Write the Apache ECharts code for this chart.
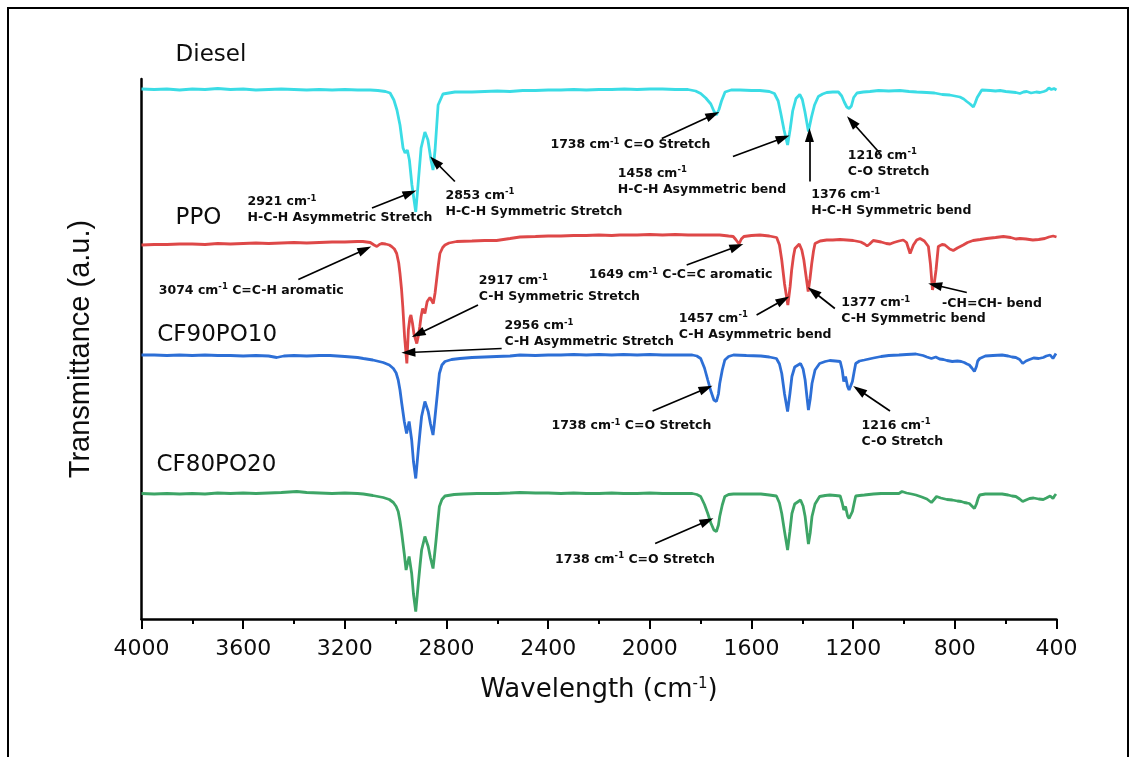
<!DOCTYPE html>
<html>
<head>
<meta charset="utf-8">
<script src="https://cdn.jsdelivr.net/npm/echarts@6/dist/echarts.min.js"></script>
<style>
  html, body { margin: 0; padding: 0; background: #fff; }
  #chart { width: 1135px; height: 757px; }
</style>
</head>
<body>
<div id="chart"></div>
<script>
// FTIR spectra, stacked with vertical offsets: [wavenumber (cm-1), transmittance (a.u.)]
const sampleNames = ['Diesel', 'PPO', 'CF90PO10', 'CF80PO20'];

const diesel = [
  [4000,106.0],[3950,105.9],[3900,106.0],[3850,105.8],[3800,106.0],[3750,105.9],[3700,106.1],[3650,105.9],
  [3600,106.0],[3550,105.8],[3500,105.9],[3450,106.0],[3400,105.9],[3350,105.8],[3300,105.9],[3250,105.8],
  [3200,105.9],[3150,105.8],[3100,105.8],[3070,105.7],[3040,105.5],[3022,105.2],[3007,103.8],[2995,101.8],
  [2983,98.8],[2971,94.2],[2963,93.2],[2954,93.8],[2946,91.8],[2936,86.8],[2921,81.4],[2912,86.8],
  [2900,94.2],[2885,97.4],[2873,95.8],[2861,91.8],[2853,89.8],[2845,93.8],[2833,102.8],[2814,105.0],
  [2767,105.4],[2700,105.4],[2650,105.5],[2600,105.6],[2550,105.5],[2500,105.7],[2450,105.7],[2400,105.8],
  [2350,105.8],[2300,105.9],[2250,105.8],[2200,105.9],[2150,105.9],[2100,106.0],[2050,105.9],[2000,106.0],
  [1950,106.0],[1900,105.9],[1850,105.9],[1820,105.6],[1800,105.1],[1780,104.2],[1760,103.0],[1748,101.6],
  [1738,100.8],[1728,101.9],[1718,103.6],[1704,105.4],[1680,105.8],[1645,105.8],[1600,105.7],[1567,105.7],
  [1530,105.5],[1510,105.1],[1495,103.6],[1485,101.2],[1472,97.8],[1458,94.8],[1448,97.9],[1438,101.6],
  [1425,104.1],[1410,104.9],[1400,103.9],[1390,101.5],[1376,97.5],[1364,100.4],[1352,102.8],[1337,104.5],
  [1320,105.0],[1304,105.3],[1280,105.4],[1258,105.4],[1245,104.6],[1235,103.4],[1225,102.4],[1216,102.1],
  [1207,102.6],[1198,104.3],[1185,105.2],[1160,105.4],[1134,105.5],[1100,105.7],[1060,105.6],[1016,105.7],
  [980,105.5],[950,105.4],[911,105.3],[880,105.2],[850,104.9],[820,104.8],[800,104.6],[780,104.4],
  [765,104.0],[753,103.5],[740,103.0],[727,102.4],[720,103.2],[712,104.3],[700,105.3],[694,105.8],
  [660,105.7],[640,105.6],[622,105.7],[600,105.5],[580,105.4],[560,105.3],[544,105.1],[530,105.4],
  [517,105.5],[500,105.2],[480,105.4],[465,105.3],[450,105.5],[440,105.7],[430,106.2],[420,105.9],
  [410,106.1],[400,105.8]
];

const ppo = [
  [4000,74.8],[3950,74.9],[3900,74.9],[3850,75.0],[3800,75.0],[3750,74.9],[3700,75.1],[3650,75.0],
  [3600,75.1],[3550,75.2],[3500,75.1],[3450,75.2],[3400,75.3],[3350,75.2],[3300,75.3],[3250,75.4],
  [3200,75.4],[3150,75.5],[3129,75.5],[3100,75.3],[3085,74.8],[3074,74.5],[3064,74.9],[3055,75.1],
  [3040,75.0],[3025,74.8],[3016,74.5],[3005,74.0],[2996,73.1],[2988,71.2],[2983,69.1],[2977,66.0],
  [2972,62.5],[2965,56.5],[2956,51.1],[2950,57.8],[2944,60.2],[2940,60.8],[2934,59.2],[2928,57.0],
  [2917,55.1],[2910,56.8],[2905,58.5],[2900,60.5],[2894,62.1],[2885,61.1],[2876,63.5],[2865,64.3],
  [2852,63.1],[2845,65.2],[2839,67.8],[2832,70.8],[2826,73.1],[2815,74.3],[2806,74.8],[2790,75.2],
  [2760,75.5],[2700,75.6],[2650,75.7],[2603,75.7],[2550,76.1],[2511,76.4],[2450,76.5],[2400,76.6],
  [2350,76.6],[2300,76.7],[2250,76.7],[2200,76.8],[2150,76.7],[2118,76.8],[2050,76.8],[2000,76.9],
  [1950,76.8],[1900,76.9],[1850,76.8],[1800,76.8],[1750,76.8],[1725,76.8],[1690,76.6],[1672,76.5],
  [1662,75.9],[1649,75.0],[1640,76.0],[1630,76.5],[1600,76.7],[1567,76.8],[1530,76.6],[1501,76.3],
  [1490,74.8],[1481,71.8],[1470,67.0],[1457,62.8],[1448,66.5],[1442,69.8],[1435,72.5],[1429,74.1],
  [1412,75.0],[1402,73.8],[1394,71.8],[1386,68.8],[1377,65.5],[1370,68.0],[1363,71.1],[1356,73.6],
  [1350,75.1],[1330,75.6],[1304,75.8],[1280,75.8],[1252,75.9],[1225,75.8],[1200,75.7],[1170,75.4],
  [1155,75.0],[1145,74.6],[1135,75.0],[1121,75.7],[1090,75.4],[1070,75.1],[1055,75.0],[1040,75.3],
  [1020,75.6],[1003,75.8],[990,75.3],[976,73.1],[963,74.8],[950,75.8],[937,76.1],[920,75.6],
  [904,74.5],[896,71.0],[888,65.8],[880,67.5],[874,69.8],[865,74.5],[850,74.9],[839,74.8],
  [820,74.0],[806,73.7],[790,74.2],[767,74.8],[750,75.3],[728,75.7],[700,75.9],[675,76.1],
  [640,76.3],[609,76.5],[580,76.3],[560,76.0],[544,76.1],[520,76.0],[493,75.8],[470,75.9],
  [446,76.1],[430,76.4],[413,76.6],[400,76.4]
];

const cf90po10 = [
  [4000,52.8],[3950,52.8],[3900,52.7],[3850,52.8],[3800,52.7],[3750,52.8],[3700,52.7],[3650,52.7],
  [3600,52.6],[3550,52.7],[3500,52.6],[3468,52.3],[3440,52.6],[3400,52.7],[3350,52.6],[3300,52.7],
  [3258,52.7],[3200,52.5],[3150,52.3],[3127,52.1],[3090,51.8],[3049,51.3],[3025,50.8],[3009,50.1],
  [2998,49.2],[2990,47.8],[2983,45.8],[2976,43.1],[2966,39.5],[2957,37.1],[2947,39.5],[2937,35.8],
  [2930,31.5],[2921,28.1],[2911,33.8],[2904,37.5],[2898,40.5],[2885,43.5],[2872,41.5],[2863,39.0],
  [2853,36.8],[2847,39.5],[2841,42.5],[2834,46.0],[2828,49.1],[2818,50.8],[2806,51.5],[2780,51.9],
  [2747,52.1],[2700,52.3],[2650,52.4],[2603,52.5],[2550,52.6],[2511,52.8],[2450,52.7],[2400,52.8],
  [2350,52.8],[2300,52.9],[2250,52.8],[2200,52.9],[2150,52.8],[2104,52.9],[2050,52.8],[2000,52.9],
  [1950,52.8],[1900,52.8],[1850,52.8],[1833,52.8],[1815,52.6],[1800,52.1],[1785,50.2],[1772,47.8],
  [1760,45.6],[1748,43.8],[1738,43.5],[1730,45.0],[1725,47.1],[1715,49.8],[1705,51.8],[1690,52.5],
  [1671,52.8],[1620,52.7],[1563,52.6],[1530,52.4],[1502,52.1],[1490,51.0],[1481,49.1],[1470,45.0],
  [1458,41.5],[1449,45.0],[1441,48.5],[1430,50.4],[1407,51.1],[1397,50.0],[1389,47.8],[1382,44.5],
  [1376,41.8],[1369,44.0],[1362,47.1],[1350,49.8],[1332,51.1],[1310,51.5],[1292,51.7],[1270,51.6],
  [1251,51.5],[1243,49.8],[1237,47.5],[1230,48.5],[1222,46.5],[1216,45.8],[1210,46.2],[1203,47.5],
  [1196,49.5],[1190,51.1],[1175,51.6],[1156,51.8],[1120,52.2],[1090,52.5],[1060,52.7],[1020,52.8],
  [990,52.9],[953,53.0],[925,52.7],[910,52.4],[892,52.1],[875,52.4],[860,52.0],[845,51.9],
  [831,51.7],[810,51.5],[790,51.6],[775,51.5],[763,51.3],[752,51.0],[743,50.8],[733,50.2],
  [723,49.5],[715,50.5],[710,51.6],[702,52.1],[680,52.6],[650,52.7],[614,52.8],[590,52.6],
  [575,52.4],[560,52.3],[545,51.9],[533,51.1],[520,51.6],[506,51.9],[490,52.2],[470,52.1],
  [452,52.3],[440,52.6],[425,52.8],[418,52.4],[414,52.1],[408,52.6],[402,53.1]
];

const cf80po20 = [
  [4000,25.1],[3950,25.0],[3900,25.1],[3850,25.0],[3800,25.1],[3750,25.0],[3700,25.2],[3650,25.1],
  [3600,25.2],[3550,25.1],[3500,25.2],[3450,25.3],[3389,25.5],[3350,25.3],[3300,25.2],[3250,25.1],
  [3200,25.2],[3150,25.1],[3127,25.0],[3090,24.7],[3049,24.3],[3025,23.9],[3009,23.3],[2998,22.5],
  [2990,21.5],[2983,19.6],[2976,17.1],[2966,13.0],[2959,9.8],[2947,12.5],[2937,9.1],[2930,5.0],
  [2921,1.5],[2911,7.1],[2904,10.8],[2898,13.8],[2885,16.5],[2872,14.5],[2863,12.2],[2853,10.1],
  [2847,12.8],[2841,15.8],[2834,19.5],[2828,22.5],[2818,23.9],[2806,24.6],[2770,24.9],[2734,25.0],
  [2680,25.1],[2600,25.1],[2550,25.2],[2511,25.3],[2450,25.2],[2400,25.2],[2350,25.1],[2300,25.2],
  [2250,25.1],[2200,25.1],[2150,25.2],[2104,25.1],[2050,25.1],[2000,25.2],[1950,25.1],[1900,25.1],
  [1850,25.1],[1833,25.1],[1815,24.9],[1800,24.5],[1785,22.9],[1772,21.1],[1760,19.2],[1748,17.8],
  [1738,17.5],[1730,18.8],[1725,20.5],[1715,22.8],[1705,24.5],[1690,24.9],[1671,25.0],[1620,25.0],
  [1563,25.0],[1530,24.8],[1502,24.6],[1490,23.2],[1481,21.1],[1470,17.5],[1458,13.8],[1449,17.5],
  [1441,21.1],[1430,23.0],[1407,23.8],[1397,22.6],[1389,20.5],[1382,17.5],[1376,15.0],[1369,17.2],
  [1362,20.5],[1350,23.0],[1332,24.5],[1310,24.7],[1292,24.8],[1270,24.7],[1251,24.6],[1243,23.2],
  [1237,21.8],[1230,22.5],[1222,20.6],[1216,20.1],[1210,20.5],[1203,21.5],[1196,23.2],[1190,24.6],
  [1175,24.7],[1156,24.8],[1120,25.0],[1090,25.1],[1060,25.1],[1020,25.1],[1008,25.5],[990,25.2],
  [970,25.0],[953,24.8],[930,24.4],[910,24.0],[892,23.3],[880,24.0],[872,24.5],[855,24.2],
  [831,23.9],[810,23.8],[790,23.6],[775,23.5],[763,23.3],[752,23.2],[743,23.1],[733,22.6],
  [723,22.1],[715,23.0],[708,24.2],[702,24.8],[680,25.0],[650,25.0],[614,25.0],[590,24.8],
  [575,24.6],[560,24.5],[545,24.0],[533,23.5],[520,23.8],[506,24.1],[490,24.2],[470,24.0],
  [452,23.9],[440,24.2],[425,24.6],[418,24.3],[414,24.1],[408,24.6],[402,25.0]
];

const spectra = [diesel, ppo, cf90po10, cf80po20];
const xTicks = { min: 400, max: 4000, step: 400 };

// Band assignments (peak wavenumber + assignment)
const bands = [
  { wn: 2921, note: 'H-C-H Asymmetric Stretch' },
  { wn: 2853, note: 'H-C-H Symmetric Stretch' },
  { wn: 1738, note: 'C=O Stretch' },
  { wn: 1458, note: 'H-C-H Asymmetric bend' },
  { wn: 1376, note: 'H-C-H Symmetric bend' },
  { wn: 1216, note: 'C-O Stretch' },
  { wn: 3074, note: 'C=C-H aromatic' },
  { wn: 2917, note: 'C-H Symmetric Stretch' },
  { wn: 2956, note: 'C-H Asymmetric Stretch' },
  { wn: 1649, note: 'C-C=C aromatic' },
  { wn: 1457, note: 'C-H Asymmetric bend' },
  { wn: 1377, note: 'C-H Symmetric bend' },
  { wn: null, note: '-CH=CH- bend' },
  { wn: 1738, note: 'C=O Stretch' },
  { wn: 1216, note: 'C-O Stretch' },
  { wn: 1738, note: 'C=O Stretch' }
];

// Callout layout in axis units: text anchor (left / middle), arrow tail and head
const calloutLayout = [
  { twoLine: true,  at: [3585, 81.8], tail: [3093, 82.2], head: [2944, 85.2] },
  { twoLine: true,  at: [2806, 83.1], tail: [2767, 87.5], head: [2845, 91.5] },
  { twoLine: false, at: [2393, 94.8], tail: [1953, 96.1], head: [1752, 100.8] },
  { twoLine: true,  at: [2128, 87.5], tail: [1673, 92.5], head: [1476, 96.2] },
  { twoLine: true,  at: [1367, 83.2], tail: [1372, 87.5], head: [1372, 96.8] },
  { twoLine: true,  at: [1223, 91.1], tail: [1094, 93.1], head: [1206, 99.5] },
  { twoLine: false, at: [3934, 65.7], tail: [3383, 67.9], head: [3121, 73.9] },
  { twoLine: true,  at: [2675, 66.0], tail: [2676, 62.8], head: [2912, 57.0] },
  { twoLine: true,  at: [2574, 57.0], tail: [2583, 54.1], head: [2950, 53.3] },
  { twoLine: false, at: [2242, 68.8], tail: [1855, 70.8], head: [1658, 74.5] },
  { twoLine: true,  at: [1888, 58.5], tail: [1580, 60.8], head: [1475, 63.8] },
  { twoLine: true,  at: [1249, 61.6], tail: [1272, 62.1], head: [1357, 65.5] },
  { twoLine: false, at: [852, 63.1],  tail: [753, 65.3],  head: [878, 66.8] },
  { twoLine: false, at: [2389, 38.6], tail: [1989, 41.6], head: [1779, 46.1] },
  { twoLine: true,  at: [1169, 37.1], tail: [1055, 41.6], head: [1177, 45.8] },
  { twoLine: false, at: [2375, 11.9], tail: [1979, 15.1], head: [1775, 19.6] }
];

// Where each sample name sits (axis units)
const nameAnchors = [[3868, 112.8], [3868, 80.1], [3940, 56.8], [3943, 30.8]];

const colors = ['#3BDCE5', '#DE4848', '#2D6FD6', '#3DA566'];
const FONT = 'DejaVu Sans';
const INK = '#0d0d0d';

function calloutText(band, layout) {
  if (band.wn == null) return '{b|' + band.note + '}';
  const head = '{b|' + band.wn + ' cm}{s|-1}';
  return layout.twoLine ? head + '\n{b|' + band.note + '}' : head + '{b| ' + band.note + '}';
}

const lineSeries = spectra.map((data, i) => ({
  type: 'line',
  name: sampleNames[i],
  data: data,
  symbol: 'none',
  smooth: false,
  clip: false,
  silent: true,
  z: 2,
  lineStyle: { color: colors[i], width: 2.8 },
  itemStyle: { color: colors[i] }
}));

const hiddenDot = { color: 'rgba(0,0,0,0)', opacity: 1 };

const calloutSeries = {
  type: 'scatter',
  name: 'callouts',
  silent: true,
  clip: false,
  z: 5,
  symbolSize: 1,
  itemStyle: hiddenDot,
  label: {
    show: true,
    position: 'right',
    distance: 0,
    align: 'left',
    opacity: 1,
    rich: {
      b: { fontFamily: FONT, fontWeight: 'bold', fontSize: 12.5, lineHeight: 16, color: INK },
      s: { fontFamily: FONT, fontWeight: 'bold', fontSize: 8.5, lineHeight: 12, verticalAlign: 'top', color: INK }
    }
  },
  data: bands.map((band, i) => ({
    value: calloutLayout[i].at,
    label: { formatter: calloutText(band, calloutLayout[i]) }
  })),
  markLine: {
    silent: true,
    animation: false,
    symbol: ['none', 'triangle'],
    symbolSize: [9, 14],
    label: { show: false },
    lineStyle: { color: '#000', width: 1.7, type: 'solid', opacity: 1 },
    itemStyle: { color: '#000' },
    emphasis: { disabled: true },
    data: calloutLayout.map(c => [{ coord: c.tail }, { coord: c.head }])
  }
};

const nameSeries = {
  type: 'scatter',
  name: 'sample names',
  silent: true,
  clip: false,
  z: 5,
  symbolSize: 1,
  itemStyle: hiddenDot,
  label: {
    show: true,
    position: 'right',
    distance: 0,
    opacity: 1,
    fontFamily: FONT,
    fontSize: 23,
    color: INK,
    formatter: p => sampleNames[p.dataIndex]
  },
  data: nameAnchors
};

const chart = echarts.init(document.getElementById('chart'), null, { renderer: 'canvas' });
chart.setOption({
  animation: false,
  backgroundColor: '#ffffff',
  grid: { left: 141.5, right: 78.5, top: 79, bottom: 138, containLabel: false },
  xAxis: {
    type: 'value',
    inverse: true,
    min: xTicks.min,
    max: xTicks.max,
    interval: xTicks.step,
    axisLine: { show: true, onZero: false, lineStyle: { color: '#000', width: 2.5 } },
    axisTick: { show: true, length: 10, lineStyle: { color: '#000', width: 2 } },
    minorTick: { show: true, splitNumber: 2, length: 5, lineStyle: { color: '#000', width: 2 } },
    axisLabel: { color: INK, fontFamily: FONT, fontSize: 22, margin: 19, formatter: v => String(v) },
    splitLine: { show: false },
    minorSplitLine: { show: false },
    name: 'Wavelength (cm{s|-1})',
    nameLocation: 'middle',
    nameGap: 58,
    nameTextStyle: {
      color: INK, fontFamily: FONT, fontSize: 26,
      rich: { s: { color: INK, fontFamily: FONT, fontSize: 15, lineHeight: 16, verticalAlign: 'top' } }
    }
  },
  yAxis: {
    type: 'value',
    min: 0,
    max: 108,
    axisLine: { show: true, onZero: false, lineStyle: { color: '#000', width: 2.5 } },
    axisTick: { show: false },
    axisLabel: { show: false },
    splitLine: { show: false },
    name: 'Transmittance (a.u.)',
    nameLocation: 'middle',
    nameGap: 46,
    nameTextStyle: { color: INK, fontFamily: 'Liberation Sans', fontSize: 29 }
  },
  graphic: [{
    type: 'rect',
    silent: true,
    shape: { x: 8, y: 8, width: 1120, height: 760 },
    style: { fill: 'none', stroke: '#000', lineWidth: 2 }
  }],
  series: [...lineSeries, calloutSeries, nameSeries]
});
</script>
</body>
</html>
